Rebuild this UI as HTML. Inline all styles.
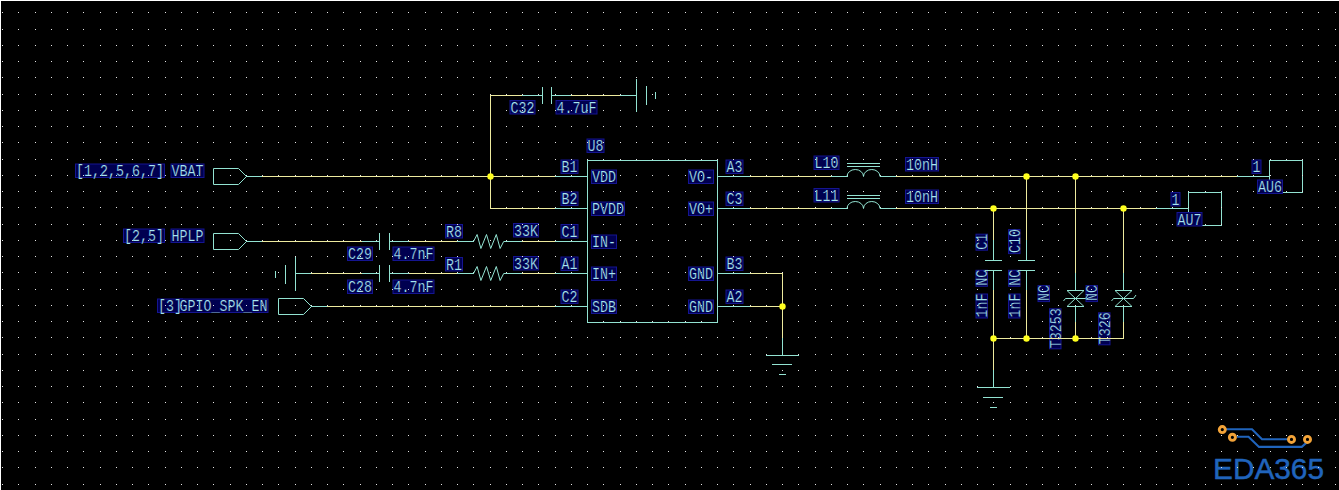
<!DOCTYPE html>
<html lang="en">
<head>
<meta charset="utf-8">
<title>Audio amplifier schematic</title>
<style>
html,body{margin:0;padding:0;background:#000;}
body{width:1339px;height:490px;overflow:hidden;}
svg{display:block;}
svg path,svg rect.o{fill:none;stroke-width:1;shape-rendering:crispEdges;}
svg rect{shape-rendering:crispEdges;}
svg rect.hb{fill:#000050;stroke:#151590;stroke-width:1;shape-rendering:geometricPrecision;}
svg .aa,svg .aa path{shape-rendering:geometricPrecision;}
svg text{font-family:"Liberation Mono",monospace;font-size:13.333px;fill:#a8e6f0;stroke:#000050;stroke-width:0.2px;}
svg text.logo{font-family:"Liberation Sans",sans-serif;font-size:30px;fill:#2064bc;stroke:#2064bc;stroke-width:0.5px;}
</style>
</head>
<body>
<svg width="1339" height="490" viewBox="0 0 1339 490">
<defs>
<pattern id="grid" x="0" y="0" width="65" height="65" patternUnits="userSpaceOnUse">
<path d="M2 12h1v1h-1zM18 12h1v1h-1zM35 12h1v1h-1zM51 12h1v1h-1zM2 29h1v1h-1zM18 29h1v1h-1zM35 29h1v1h-1zM51 29h1v1h-1zM2 45h1v1h-1zM18 45h1v1h-1zM35 45h1v1h-1zM51 45h1v1h-1zM2 61h1v1h-1zM18 61h1v1h-1zM35 61h1v1h-1zM51 61h1v1h-1z" style="fill:#e4e4e4;stroke:none"/>
</pattern>
</defs>
<rect x="0" y="0" width="1339" height="490" fill="#000"/>
<rect x="1269.5" y="160.5" width="33" height="32" stroke="#93e3d2" class="o"/>
<rect x="1188.5" y="192.5" width="33" height="33" stroke="#93e3d2" class="o"/>
<rect class="hb" x="75.5" y="164" width="89" height="13.5"/>
<rect class="hb" x="171.0" y="164" width="33" height="13.5"/>
<rect class="hb" x="123.5" y="229" width="41" height="13.5"/>
<rect class="hb" x="171.0" y="229" width="33" height="13.5"/>
<rect class="hb" x="157.5" y="299" width="25" height="13.5"/>
<rect class="hb" x="179.0" y="299" width="89" height="13.5"/>
<rect class="hb" x="510.0" y="100.5" width="25" height="13.5"/>
<rect class="hb" x="556.0" y="100.5" width="41" height="13.5"/>
<rect class="hb" x="587.0" y="139" width="17" height="13.5"/>
<rect class="hb" x="561.0" y="160" width="17" height="13.5"/>
<rect class="hb" x="561.0" y="192" width="17" height="13.5"/>
<rect class="hb" x="561.0" y="224.5" width="17" height="13.5"/>
<rect class="hb" x="561.0" y="257" width="17" height="13.5"/>
<rect class="hb" x="561.0" y="290" width="17" height="13.5"/>
<rect class="hb" x="591.5" y="170" width="25" height="13.5"/>
<rect class="hb" x="591.5" y="202" width="33" height="13.5"/>
<rect class="hb" x="591.5" y="235" width="25" height="13.5"/>
<rect class="hb" x="591.5" y="267" width="25" height="13.5"/>
<rect class="hb" x="591.5" y="300" width="25" height="13.5"/>
<rect class="hb" x="688.5" y="170" width="25" height="13.5"/>
<rect class="hb" x="688.5" y="202" width="25" height="13.5"/>
<rect class="hb" x="688.5" y="267" width="25" height="13.5"/>
<rect class="hb" x="688.5" y="300" width="25" height="13.5"/>
<rect class="hb" x="726.0" y="160" width="17" height="13.5"/>
<rect class="hb" x="726.0" y="192" width="17" height="13.5"/>
<rect class="hb" x="726.0" y="257" width="17" height="13.5"/>
<rect class="hb" x="726.0" y="290" width="17" height="13.5"/>
<rect class="hb" x="347.5" y="247" width="25" height="13.5"/>
<rect class="hb" x="393.0" y="247" width="41" height="13.5"/>
<rect class="hb" x="347.5" y="280" width="25" height="13.5"/>
<rect class="hb" x="393.0" y="280" width="41" height="13.5"/>
<rect class="hb" x="445.5" y="224.5" width="17" height="13.5"/>
<rect class="hb" x="445.5" y="257.5" width="17" height="13.5"/>
<rect class="hb" x="513.5" y="223.5" width="25" height="13.5"/>
<rect class="hb" x="513.5" y="256.5" width="25" height="13.5"/>
<rect class="hb" x="814.0" y="156" width="25" height="13.5"/>
<rect class="hb" x="814.0" y="188.5" width="25" height="13.5"/>
<rect class="hb" x="905.5" y="157.5" width="33" height="13.5"/>
<rect class="hb" x="905.5" y="190" width="33" height="13.5"/>
<rect class="hb" x="1252.0" y="160" width="9" height="13.5"/>
<rect class="hb" x="1257.5" y="180" width="25" height="13.5"/>
<rect class="hb" x="1171.0" y="192.5" width="9" height="13.5"/>
<rect class="hb" x="1177.0" y="212.5" width="25" height="13.5"/>
<rect class="hb" x="976.0" y="234.2" width="11.5" height="16"/>
<rect class="hb" x="1008.5" y="229.6" width="11.5" height="24"/>
<rect class="hb" x="976.0" y="270.3" width="11.5" height="16"/>
<rect class="hb" x="976.0" y="294.0" width="11.5" height="24"/>
<rect class="hb" x="1008.5" y="270.3" width="11.5" height="16"/>
<rect class="hb" x="1008.5" y="294.0" width="11.5" height="24"/>
<rect class="hb" x="1038.0" y="285.6" width="11.5" height="16"/>
<rect class="hb" x="1086.0" y="285.6" width="11.5" height="16"/>
<rect class="hb" x="1049.5" y="308.8" width="11.5" height="40"/>
<rect class="hb" x="1098.5" y="312.8" width="11.5" height="32"/>
<g class="aa" fill="none">
<path d="M1226 429.2H1252L1262 439.2H1288" style="stroke:#2064bc;stroke-width:2.1"/>
<path d="M1236.5 436.8H1248.5L1259 446.9H1301.8L1306.8 442.4" style="stroke:#2064bc;stroke-width:2.1"/>
<circle cx="1222.3" cy="429.6" r="3.05" style="stroke:#f3a338;stroke-width:2.9"/>
<circle cx="1232.4" cy="437.3" r="3.05" style="stroke:#f3a338;stroke-width:2.9"/>
<circle cx="1291.5" cy="439.4" r="3.05" style="stroke:#f3a338;stroke-width:2.9"/>
<circle cx="1307.5" cy="439.4" r="3.05" style="stroke:#f3a338;stroke-width:2.9"/>
</g>
<text class="logo" x="1213" y="479" textLength="111" lengthAdjust="spacingAndGlyphs">EDA365</text>
<rect x="0" y="0" width="1339" height="490" fill="url(#grid)"/>
<rect x="0" y="0" width="1339" height="1" fill="#fff"/>
<rect x="0" y="0" width="1" height="490" fill="#fff"/>
<text transform="translate(76 176) scale(1 1.24)">[1,2,5,6,7]</text>
<text transform="translate(171.5 176) scale(1 1.24)">VBAT</text>
<text transform="translate(124 241) scale(1 1.24)">[2,5]</text>
<text transform="translate(171.5 241) scale(1 1.24)">HPLP</text>
<text transform="translate(158 311) scale(1 1.24)">[3]</text>
<text transform="translate(179.5 311) scale(1 1.24)">GPIO_SPK_EN</text>
<text transform="translate(510.5 112.5) scale(1 1.24)">C32</text>
<text transform="translate(556.5 112.5) scale(1 1.24)">4.7uF</text>
<text transform="translate(587.5 151) scale(1 1.24)">U8</text>
<text transform="translate(561.5 172) scale(1 1.24)">B1</text>
<text transform="translate(561.5 204) scale(1 1.24)">B2</text>
<text transform="translate(561.5 236.5) scale(1 1.24)">C1</text>
<text transform="translate(561.5 269) scale(1 1.24)">A1</text>
<text transform="translate(561.5 302) scale(1 1.24)">C2</text>
<text transform="translate(592 182) scale(1 1.24)">VDD</text>
<text transform="translate(592 214) scale(1 1.24)">PVDD</text>
<text transform="translate(592 247) scale(1 1.24)">IN-</text>
<text transform="translate(592 279) scale(1 1.24)">IN+</text>
<text transform="translate(592 312) scale(1 1.24)">SDB</text>
<text transform="translate(689 182) scale(1 1.24)">VO-</text>
<text transform="translate(689 214) scale(1 1.24)">VO+</text>
<text transform="translate(689 279) scale(1 1.24)">GND</text>
<text transform="translate(689 312) scale(1 1.24)">GND</text>
<text transform="translate(726.5 172) scale(1 1.24)">A3</text>
<text transform="translate(726.5 204) scale(1 1.24)">C3</text>
<text transform="translate(726.5 269) scale(1 1.24)">B3</text>
<text transform="translate(726.5 302) scale(1 1.24)">A2</text>
<text transform="translate(348 259) scale(1 1.24)">C29</text>
<text transform="translate(393.5 259) scale(1 1.24)">4.7nF</text>
<text transform="translate(348 292) scale(1 1.24)">C28</text>
<text transform="translate(393.5 292) scale(1 1.24)">4.7nF</text>
<text transform="translate(446 236.5) scale(1 1.24)">R8</text>
<text transform="translate(446 269.5) scale(1 1.24)">R1</text>
<text transform="translate(514 235.5) scale(1 1.24)">33K</text>
<text transform="translate(514 268.5) scale(1 1.24)">33K</text>
<text transform="translate(814.5 168) scale(1 1.24)">L10</text>
<text transform="translate(814.5 200.5) scale(1 1.24)">L11</text>
<text transform="translate(906 169.5) scale(1 1.24)">10nH</text>
<text transform="translate(906 202) scale(1 1.24)">10nH</text>
<text transform="translate(1252.5 172) scale(1 1.24)">1</text>
<text transform="translate(1258 192) scale(1 1.24)">AU6</text>
<text transform="translate(1171.5 204.5) scale(1 1.24)">1</text>
<text transform="translate(1177.5 224.5) scale(1 1.24)">AU7</text>
<text transform="translate(987.0 249.7) rotate(-90) scale(1 1.24)">C1</text>
<text transform="translate(1019.5 253.1) rotate(-90) scale(1 1.24)">C10</text>
<text transform="translate(987.0 285.8) rotate(-90) scale(1 1.24)">NC</text>
<text transform="translate(987.0 317.5) rotate(-90) scale(1 1.24)">1nF</text>
<text transform="translate(1019.5 285.8) rotate(-90) scale(1 1.24)">NC</text>
<text transform="translate(1019.5 317.5) rotate(-90) scale(1 1.24)">1nF</text>
<text transform="translate(1049.0 301.1) rotate(-90) scale(1 1.24)">NC</text>
<text transform="translate(1097.0 301.1) rotate(-90) scale(1 1.24)">NC</text>
<text transform="translate(1060.5 348.3) rotate(-90) scale(1 1.24)">T3253</text>
<text transform="translate(1109.5 344.3) rotate(-90) scale(1 1.24)">T326</text>
<path d="M213.5 168.5H238.5L246.5 176.5L238.5 184.5H213.5Z" stroke="#93e3d2" class="aa"/>
<path d="M246 176.5H263" stroke="#93e3d2"/>
<path d="M262 176.5H556" stroke="#edea9e"/>
<path d="M555 176.5H588" stroke="#93e3d2"/>
<path d="M490.5 95V209" stroke="#edea9e"/>
<path d="M490 95.5H523" stroke="#edea9e"/>
<path d="M522 95.5H543" stroke="#93e3d2"/>
<path d="M551 95.5H572" stroke="#93e3d2"/>
<path d="M571 95.5H621" stroke="#edea9e"/>
<path d="M620 95.5H637" stroke="#93e3d2"/>
<path d="M542.5 87V104" stroke="#93e3d2"/>
<path d="M551.5 87V104" stroke="#93e3d2"/>
<path d="M636.5 79V112" stroke="#93e3d2"/>
<path d="M646.5 86V105" stroke="#93e3d2"/>
<path d="M655.5 92V99" stroke="#93e3d2"/>
<path d="M490 208.5H556" stroke="#edea9e"/>
<path d="M555 208.5H588" stroke="#93e3d2"/>
<path d="M213.5 233.5H238.5L246.5 241.5L238.5 249.5H213.5Z" stroke="#93e3d2" class="aa"/>
<path d="M246 241.5H263" stroke="#93e3d2"/>
<path d="M262 241.5H363" stroke="#edea9e"/>
<path d="M362 241.5H380" stroke="#93e3d2"/>
<path d="M389 241.5H410" stroke="#93e3d2"/>
<path d="M409 241.5H458" stroke="#edea9e"/>
<path d="M457 241.5H474" stroke="#93e3d2"/>
<path d="M506 241.5H523" stroke="#93e3d2"/>
<path d="M522 241.5H556" stroke="#edea9e"/>
<path d="M555 241.5H588" stroke="#93e3d2"/>
<path d="M379.5 233V250" stroke="#93e3d2"/>
<path d="M389.5 233V250" stroke="#93e3d2"/>
<path d="M473.5 241.5L477.1 234.5L480.9 248.5L486.5 234.5L490.7 248.5L496.3 234.5L500.1 248.5L503.7 241.5L506.5 241.5" stroke="#93e3d2" class="aa"/>
<path d="M295.5 257V291" stroke="#93e3d2"/>
<path d="M285.5 265V284" stroke="#93e3d2"/>
<path d="M275.5 271V278" stroke="#93e3d2"/>
<path d="M295 273.5H312" stroke="#93e3d2"/>
<path d="M311 273.5H363" stroke="#edea9e"/>
<path d="M362 273.5H380" stroke="#93e3d2"/>
<path d="M389 273.5H410" stroke="#93e3d2"/>
<path d="M409 273.5H458" stroke="#edea9e"/>
<path d="M457 273.5H474" stroke="#93e3d2"/>
<path d="M506 273.5H523" stroke="#93e3d2"/>
<path d="M522 273.5H556" stroke="#edea9e"/>
<path d="M555 273.5H588" stroke="#93e3d2"/>
<path d="M379.5 265V282" stroke="#93e3d2"/>
<path d="M389.5 265V282" stroke="#93e3d2"/>
<path d="M473.5 273.5L477.1 266.5L480.9 280.5L486.5 266.5L490.7 280.5L496.3 266.5L500.1 280.5L503.7 273.5L506.5 273.5" stroke="#93e3d2" class="aa"/>
<path d="M278.5 298.5H303.5L311.5 306.5L303.5 314.5H278.5Z" stroke="#93e3d2" class="aa"/>
<path d="M311 306.5H328" stroke="#93e3d2"/>
<path d="M327 306.5H556" stroke="#edea9e"/>
<path d="M555 306.5H588" stroke="#93e3d2"/>
<rect x="587.5" y="160.5" width="130" height="162" stroke="#93e3d2" class="o"/>
<path d="M717 176.5H751" stroke="#93e3d2"/>
<path d="M750 176.5H832" stroke="#edea9e"/>
<path d="M831 176.5H848" stroke="#93e3d2"/>
<path d="M880 176.5H897" stroke="#93e3d2"/>
<path d="M896 176.5H1238" stroke="#edea9e"/>
<path d="M1237 176.5H1270" stroke="#93e3d2"/>
<path d="M717 208.5H751" stroke="#93e3d2"/>
<path d="M750 208.5H832" stroke="#edea9e"/>
<path d="M831 208.5H848" stroke="#93e3d2"/>
<path d="M880 208.5H897" stroke="#93e3d2"/>
<path d="M896 208.5H1157" stroke="#edea9e"/>
<path d="M1156 208.5H1189" stroke="#93e3d2"/>
<path d="M847 176.5A8.25 7 0 0 1 863.5 176.5A8.25 7 0 0 1 880 176.5" stroke="#93e3d2" class="aa"/>
<path d="M847 163.5H880" stroke="#93e3d2"/>
<path d="M847 166.5H880" stroke="#93e3d2"/>
<path d="M847 208.5A8.25 7 0 0 1 863.5 208.5A8.25 7 0 0 1 880 208.5" stroke="#93e3d2" class="aa"/>
<path d="M847 195.5H880" stroke="#93e3d2"/>
<path d="M847 198.5H880" stroke="#93e3d2"/>
<path d="M717 273.5H751" stroke="#93e3d2"/>
<path d="M750 273.5H783" stroke="#edea9e"/>
<path d="M717 306.5H751" stroke="#93e3d2"/>
<path d="M750 306.5H783" stroke="#edea9e"/>
<path d="M782.5 273V339" stroke="#edea9e"/>
<path d="M782.5 338V356" stroke="#93e3d2"/>
<path d="M766 355.5H799" stroke="#93e3d2"/>
<path d="M772 364.5H792" stroke="#93e3d2"/>
<path d="M779 374.5H786" stroke="#93e3d2"/>
<path d="M993.5 208V241" stroke="#edea9e"/>
<path d="M993.5 240V261" stroke="#93e3d2"/>
<path d="M993.5 270V291" stroke="#93e3d2"/>
<path d="M993.5 290V371" stroke="#edea9e"/>
<path d="M993.5 370V388" stroke="#93e3d2"/>
<path d="M1026.5 176V241" stroke="#edea9e"/>
<path d="M1026.5 240V261" stroke="#93e3d2"/>
<path d="M1026.5 270V291" stroke="#93e3d2"/>
<path d="M1026.5 290V339" stroke="#edea9e"/>
<path d="M985 260.5H1002" stroke="#93e3d2"/>
<path d="M985 270.5H1002" stroke="#93e3d2"/>
<path d="M1018 260.5H1035" stroke="#93e3d2"/>
<path d="M1018 270.5H1035" stroke="#93e3d2"/>
<path d="M1075.5 176V274" stroke="#edea9e"/>
<path d="M1075.5 273V291" stroke="#93e3d2"/>
<path d="M1075.5 306V323" stroke="#93e3d2"/>
<path d="M1075.5 322V339" stroke="#edea9e"/>
<path d="M1123.5 208V274" stroke="#edea9e"/>
<path d="M1123.5 273V291" stroke="#93e3d2"/>
<path d="M1123.5 306V323" stroke="#93e3d2"/>
<path d="M1123.5 322V339" stroke="#edea9e"/>
<path d="M1067.0 290.5H1084.0L1067.0 306.5H1084.0Z" stroke="#93e3d2" class="aa"/>
<path d="M1063.5 301.0L1065.5 298.5H1085.5L1088.0 295.0" stroke="#93e3d2" class="aa"/>
<path d="M1115.0 290.5H1132.0L1115.0 306.5H1132.0Z" stroke="#93e3d2" class="aa"/>
<path d="M1111.5 301.0L1113.5 298.5H1133.5L1136.0 295.0" stroke="#93e3d2" class="aa"/>
<path d="M993 338.5H1124" stroke="#edea9e"/>
<path d="M977 387.5H1010" stroke="#93e3d2"/>
<path d="M983 397.5H1003" stroke="#93e3d2"/>
<path d="M990 407.5H997" stroke="#93e3d2"/>
<circle cx="490.5" cy="176.5" r="3.2" fill="#ffff1e"/>
<circle cx="782.5" cy="306.5" r="3.2" fill="#ffff1e"/>
<circle cx="1026.5" cy="176.5" r="3.2" fill="#ffff1e"/>
<circle cx="1075.5" cy="176.5" r="3.2" fill="#ffff1e"/>
<circle cx="993.5" cy="208.5" r="3.2" fill="#ffff1e"/>
<circle cx="1123.5" cy="208.5" r="3.2" fill="#ffff1e"/>
<circle cx="993.5" cy="338.5" r="3.2" fill="#ffff1e"/>
<circle cx="1026.5" cy="338.5" r="3.2" fill="#ffff1e"/>
<circle cx="1075.5" cy="338.5" r="3.2" fill="#ffff1e"/>
</svg>
</body>
</html>
